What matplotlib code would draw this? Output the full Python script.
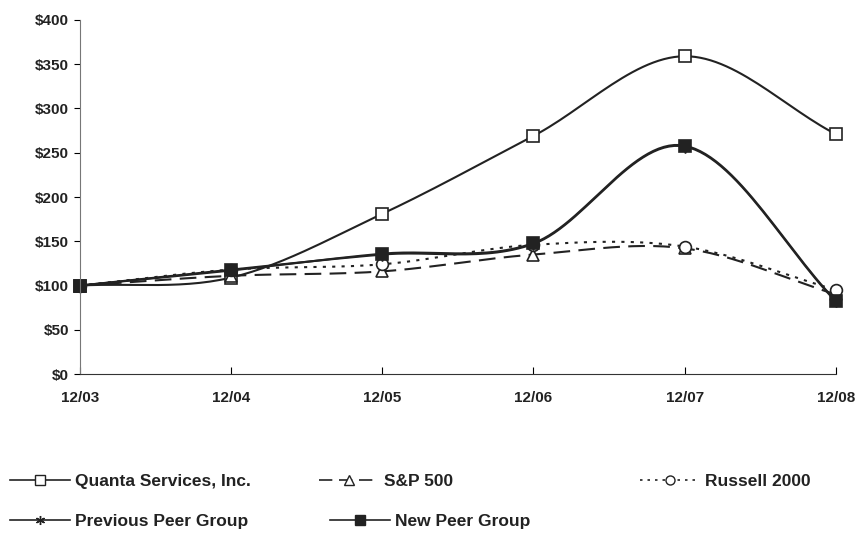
import numpy as np
import matplotlib
matplotlib.use("Agg")
import matplotlib.pyplot as plt
from matplotlib.lines import Line2D

plt.rcParams['font.family'] = ['Liberation Sans', 'DejaVu Sans']
plt.rcParams['font.weight'] = 'bold'

dates = ['12/03', '12/04', '12/05', '12/06', '12/07', '12/08']
quanta = [100, 109, 181, 269, 359, 271]
sp500 = [100, 111, 116, 135, 142, 90]
russell = [100, 118, 124, 146, 144, 95]
prev_peer = [100, 118, 135, 147, 257, 82]
new_peer = [100, 117, 136, 148, 258, 83]


def smooth(y, n=30):
    # excel style smoothed line (bezier between the points)
    y = np.asarray(y, float)
    p = np.concatenate([[2 * y[0] - y[1]], y, [2 * y[-1] - y[-2]]])
    xs, ys = [], []
    for i in range(len(y) - 1):
        p0, p1, p2, p3 = p[i], p[i + 1], p[i + 2], p[i + 3]
        t = np.linspace(0, 1, n)
        c1 = p1 + (p2 - p0) / 6
        c2 = p2 - (p3 - p1) / 6
        yy = (1 - t) ** 3 * p1 + 3 * (1 - t) ** 2 * t * c1 + 3 * (1 - t) * t ** 2 * c2 + t ** 3 * p2
        xs.append(i + t)
        ys.append(yy)
    return np.concatenate(xs), np.concatenate(ys)


fig = plt.figure(figsize=(8.57, 5.39), dpi=100)
ax = fig.add_axes([0.0933, 0.306, 0.882, 0.657])

series = [
    ('Quanta Services, Inc.', quanta, '-', 's', 'white'),
    ('S&P 500', sp500, (0, (8, 4)), '^', 'white'),
    ('Russell 2000', russell, (0, (1.5, 3)), 'o', 'white'),
    ('Previous Peer Group', prev_peer, '-', (6, 2, 0), 'black'),
    ('New Peer Group', new_peer, '-', 's', '#222222'),
]

x = np.arange(len(dates))
for name, vals, ls, mk, fc in series:
    sx, sy = smooth(vals)
    ax.plot(sx, sy, color='#222222', lw=1.5, ls=ls, clip_on=False)
    ax.plot(x, vals, ls='none', marker=mk, ms=8.5, mfc=fc, mec='#222222', mew=1.2,
            clip_on=False)

ax.set_xlim(0, 5)
ax.set_ylim(0, 400)
ax.set_xticks(x)
ax.set_xticklabels(dates)
ax.set_yticks(range(0, 401, 50))
ax.set_yticklabels(['$' + str(v) for v in range(0, 401, 50)])
ax.tick_params(axis='x', direction='in', length=5, pad=12, labelsize=11)
ax.tick_params(axis='y', direction='out', length=4, pad=4, labelsize=11)
for s in ['top', 'right']:
    ax.spines[s].set_visible(False)
ax.spines['left'].set_color('#777777')
ax.spines['bottom'].set_color('#333333')
for lab in ax.get_xticklabels() + ax.get_yticklabels():
    lab.set_fontweight('bold')
    lab.set_color('#222222')

# legend
pos = [(0.0117, 0.106), (0.372, 0.106), (0.747, 0.106), (0.0117, 0.033), (0.385, 0.033)]
for (name, vals, ls, mk, fc), (lx, ly) in zip(series, pos):
    h = Line2D([], [], color='#222222', lw=1.2, ls=ls, marker=mk, ms=6.5,
               mfc=fc, mec='#222222')
    leg = fig.legend(handles=[h], labels=[name], loc='center left', bbox_to_anchor=(lx, ly),
                     frameon=False, handlelength=3.45, handletextpad=0.29,
                     borderpad=0, borderaxespad=0,
                     prop={'weight': 'bold', 'size': 12.5})
    for t in leg.get_texts():
        t.set_color('#222222')

fig.savefig('out.png', dpi=100)
